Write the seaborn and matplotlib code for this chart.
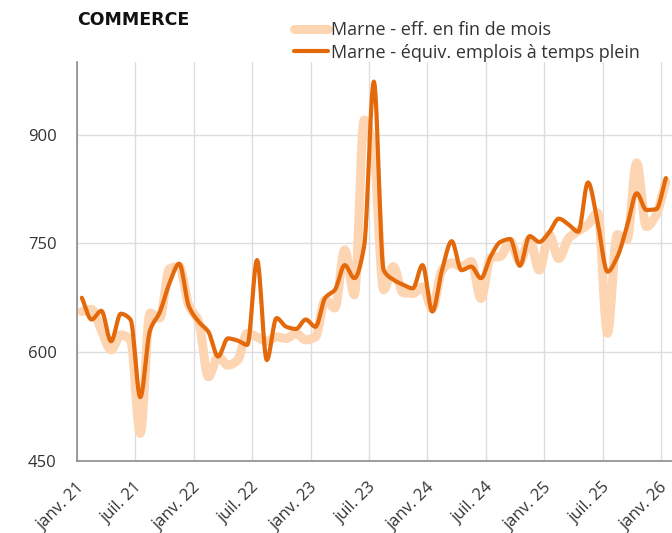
import numpy as np
import pandas as pd
import matplotlib
matplotlib.use("Agg")
import matplotlib.pyplot as plt
import matplotlib.transforms as mtransforms
from matplotlib.lines import Line2D
import seaborn as sns

# monthly values, janv. 21 -> janv. 26
eff_fin_mois = [656, 659, 630, 603, 624, 617, 488, 654, 647, 715, 718, 664,
                642, 566, 594, 582, 589, 626, 621, 615, 621, 619, 626, 617,
                621, 672, 661, 741, 679, 920, 875, 686, 718, 682, 681, 690,
                660, 713, 723, 718, 725, 674, 730, 732, 753, 725, 755, 713,
                762, 729, 757, 767, 776, 792, 626, 762, 755, 861, 773, 789,
                835]
equiv_etp = [675, 645, 657, 615, 653, 645, 538, 630, 655, 695, 722, 663,
             642, 628, 594, 619, 616, 610, 727, 589, 647, 635, 632, 645,
             635, 675, 686, 720, 702, 746, 973, 713, 700, 693, 688, 720,
             656, 713, 753, 713, 718, 702, 732, 752, 756, 719, 760, 752,
             765, 784, 776, 766, 834, 778, 711, 731, 773, 819, 796, 797,
             840]
tick_labels = ["janv. 21", "juil. 21", "janv. 22", "juil. 22", "janv. 23",
               "juil. 23", "janv. 24", "juil. 24", "janv. 25", "juil. 25",
               "janv. 26"]
y_ticks = [450, 600, 750, 900]

LIGHT = "#fdd5b3"
DARK = "#e4690b"


def monotone(x, y, n=12):
    # monotone cubic (Fritsch-Carlson) so the curve never overshoots the points
    x = np.asarray(x, float)
    y = np.asarray(y, float)
    h = np.diff(x)
    d = np.diff(y) / h
    m = np.zeros_like(y)
    m[0], m[-1] = d[0], d[-1]
    for k in range(1, len(y) - 1):
        if d[k - 1] * d[k] > 0:
            w1 = 2 * h[k] + h[k - 1]
            w2 = h[k] + 2 * h[k - 1]
            m[k] = (w1 + w2) / (w1 / d[k - 1] + w2 / d[k])
    xs, ys = [], []
    for k in range(len(y) - 1):
        t = np.linspace(0, 1, n, endpoint=False)
        h00 = 2 * t**3 - 3 * t**2 + 1
        h10 = t**3 - 2 * t**2 + t
        h01 = -2 * t**3 + 3 * t**2
        h11 = t**3 - t**2
        xs.append(x[k] + t * h[k])
        ys.append(h00 * y[k] + h10 * h[k] * m[k] + h01 * y[k + 1] + h11 * h[k] * m[k + 1])
    xs.append([x[-1]])
    ys.append([y[-1]])
    return np.concatenate(xs), np.concatenate(ys)


sns.set_style("white")
plt.rcParams["font.family"] = ["Open Sans", "DejaVu Sans"]

n = len(eff_fin_mois)
pos = np.arange(n) + 0.5  # values sit mid-month

fig = plt.figure(figsize=(6.72, 5.33), dpi=100)
ax = fig.add_axes([77 / 672, 1 - 461 / 533, 1 - 77 / 672, (461 - 62) / 533])

for vals, col, lw in [(eff_fin_mois, LIGHT, 6.5), (equiv_etp, DARK, 3.0)]:
    sx, sy = monotone(pos, vals)
    sns.lineplot(x=sx, y=sy, ax=ax, color=col, linewidth=lw, sort=False,
                 solid_capstyle="round", solid_joinstyle="round")

ax.set_xlim(0, 61.13)
ax.set_ylim(450, 1000)
ax.set_xticks(np.arange(0, 61, 6))
ax.set_xticklabels(tick_labels, rotation=45, ha="right", va="center",
                   rotation_mode="anchor", fontsize=12, color="#333333")
ax.set_yticks(y_ticks)
ax.set_yticklabels([str(v) for v in y_ticks], fontsize=12, color="#333333")

ax.grid(True, color="#dedede", linewidth=1)
ax.set_axisbelow(True)
for s in ["top", "right"]:
    ax.spines[s].set_visible(False)
for s in ["left", "bottom"]:
    ax.spines[s].set_color("#8c8c8c")
    ax.spines[s].set_linewidth(1.2)
ax.tick_params(axis="both", length=4.3, width=1, color="#8c8c8c")
ax.tick_params(axis="y", pad=10.5)
ax.set_xlabel("")
ax.set_ylabel("")

# nudge the rotated month labels (after tick_params, which resets transforms)
shift = mtransforms.ScaledTranslation(5 / 100, -13 / 100, fig.dpi_scale_trans)
for lab in ax.get_xticklabels():
    lab.set_transform(lab.get_transform() + shift)

fig.text(77 / 672, 1 - 20 / 533, "COMMERCE", fontsize=12.5, fontweight="bold",
         family="DejaVu Sans", color="#111111", va="center", ha="left")

handles = [Line2D([], [], color=LIGHT, lw=6.5, solid_capstyle="round"),
           Line2D([], [], color=DARK, lw=3.0, solid_capstyle="round")]
fig.legend(handles, ["Marne - eff. en fin de mois",
                     "Marne - équiv. emplois à temps plein"],
           loc="upper left", bbox_to_anchor=(294 / 672, 1 - 21 / 533),
           frameon=False, fontsize=13, handlelength=1.9, handletextpad=0.15,
           labelspacing=0.25, borderpad=0, borderaxespad=0,
           labelcolor="#333333")

fig.savefig("out.png", dpi=100)
